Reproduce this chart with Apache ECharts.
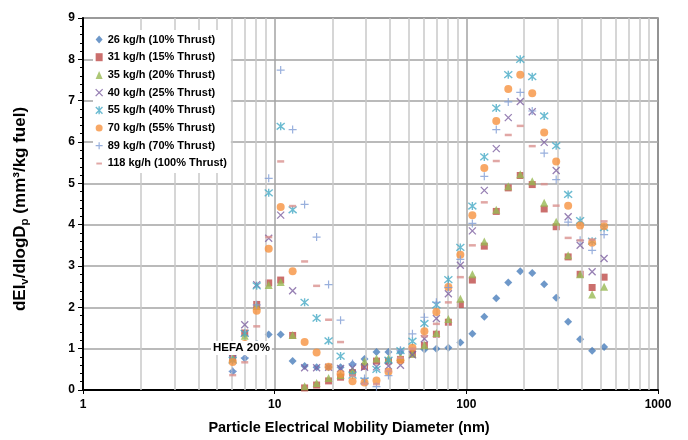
<!DOCTYPE html>
<html>
<head>
<meta charset="utf-8">
<script src="https://cdn.jsdelivr.net/npm/echarts@6/dist/echarts.min.js"></script>
<style>
  html, body { margin: 0; padding: 0; background: #ffffff; }
  #chart { width: 688px; height: 440px; }
</style>
</head>
<body>
<div id="chart"></div>
<script>
// Mobility diameter bin centres (nm)
const diameters = [6.04, 6.98, 8.06, 9.31, 10.75, 12.41, 14.33, 16.55, 19.11, 22.07, 25.48, 29.43,
  33.98, 39.24, 45.32, 52.33, 60.43, 69.78, 80.58, 93.06, 107.5, 124.1, 143.3, 165.5,
  191.1, 220.7, 254.8, 294.3, 339.8, 392.4, 453.2, 523.3];

const seriesNames = ['26 kg/h (10% Thrust)', '31 kg/h (15% Thrust)', '35 kg/h (20% Thrust)',
  '40 kg/h (25% Thrust)', '55 kg/h (40% Thrust)', '70 kg/h (55% Thrust)',
  '89 kg/h (70% Thrust)', '118 kg/h (100% Thrust)'];

// dEIv/dlogDp (mm3/kg fuel) per fuel flow
const flow26 = [0.45, 0.77, 1.12, 1.34, 1.34, 0.70, 0.58, 0.55, 0.55, 0.55, 0.62, 0.75,
  0.92, 0.92, 0.92, 0.93, 0.98, 1.00, 1.02, 1.15, 1.36, 1.77, 2.22, 2.60,
  2.87, 2.83, 2.56, 2.23, 1.65, 1.23, 0.95, 1.04];
const flow31 = [0.78, 1.38, 2.07, 2.59, 2.66, 1.32, 0.05, 0.12, 0.22, 0.31, 0.42, 0.57,
  0.70, 0.70, 0.74, 0.87, 1.08, 1.35, 1.64, 2.07, 2.66, 3.48, 4.32, 4.89,
  5.19, 4.97, 4.38, 3.95, 3.22, 2.80, 2.48, 2.73];
const flow35 = [0.76, 1.31, 2.03, 2.54, 2.61, 1.33, 0.09, 0.17, 0.29, 0.36, 0.48, 0.69,
  0.76, 0.76, 0.80, 0.88, 1.08, 1.38, 1.72, 2.21, 2.80, 3.59, 4.36, 4.93,
  5.22, 5.05, 4.53, 4.07, 3.26, 2.80, 2.31, 2.50];
const flow40 = [0.90, 1.58, 2.55, 3.67, 4.23, 2.40, 0.54, 0.54, 0.55, 0.52, 0.53, 0.55,
  0.56, 0.58, 0.60, 0.85, 1.24, 1.73, 2.33, 3.02, 3.85, 4.83, 5.84, 6.59,
  6.98, 6.73, 5.99, 5.31, 4.19, 3.50, 2.86, 3.18];
const flow55 = [0.72, 1.37, 2.52, 4.77, 6.38, 4.36, 2.12, 1.74, 1.19, 0.82, 0.36, 0.22,
  0.50, 0.72, 0.95, 1.18, 1.61, 2.06, 2.67, 3.45, 4.45, 5.64, 6.82, 7.63,
  8.00, 7.58, 6.63, 5.91, 4.73, 4.10, 3.60, 3.93];
const flow70 = [0.68, 1.11, 1.92, 3.42, 4.43, 2.87, 1.16, 0.91, 0.56, 0.39, 0.21, 0.18,
  0.23, 0.44, 0.72, 1.02, 1.42, 1.89, 2.49, 3.27, 4.23, 5.37, 6.51, 7.28,
  7.63, 7.18, 6.23, 5.53, 4.46, 3.98, 3.56, 3.96];
const flow89 = [0.45, 0.78, 2.06, 5.12, 7.74, 6.30, 4.49, 3.70, 2.55, 1.69, 0.64, 0.28,
  0.08, 0.35, 0.96, 1.36, 1.76, 2.12, 2.48, 3.16, 4.03, 5.17, 6.30, 6.97,
  7.20, 6.75, 5.73, 5.09, 4.06, 3.62, 3.38, 3.76];
const flow118 = [0.36, 0.67, 1.54, 3.70, 5.53, 4.45, 3.11, 2.52, 1.70, 1.16, 0.35, 0.15,
  0.14, 0.46, 0.78, 1.00, 1.30, 1.60, 2.12, 2.73, 3.50, 4.54, 5.54, 6.17,
  6.39, 5.90, 4.98, 4.46, 3.68, 3.62, 3.64, 4.08];

// Minor vertical grid positions on the log axis
const minorGridX = [2, 3, 4, 5, 6, 7, 8, 9, 20, 30, 40, 50, 60, 70, 80, 90,
  200, 300, 400, 500, 600, 700, 800, 900];

const FONT = "'Liberation Sans', Arial, sans-serif";

const PATH_X = 'path://M0,0 L10,10 M10,0 L0,10';
const PATH_STAR = 'path://M0,0 L10,10 M10,0 L0,10 M5,-1 L5,11';
const PATH_PLUS = 'path://M5,0 L5,10 M0,5 L10,5';
// short bar inside a 10x10 box so the legend icon keeps its proportions
const PATH_DASH = 'path://M0,0 M10,10 M1,3.8 L9,3.8 L9,6.6 L1,6.6 Z';

const styles = [
  { values: flow26, symbol: 'diamond', icon: 'diamond', size: 8, item: { color: '#4A7EBB' } },
  { values: flow31, symbol: 'rect', icon: 'rect', size: 7, item: { color: '#BE4B48' } },
  { values: flow35, symbol: 'triangle', icon: 'triangle', size: 8, item: { color: '#98B954' } },
  { values: flow40, symbol: PATH_X, icon: PATH_X, size: 7, item: { color: 'rgba(0,0,0,0)', borderColor: '#7D60A0', borderWidth: 1.3 } },
  { values: flow55, symbol: PATH_STAR, icon: PATH_STAR, size: 8, item: { color: 'rgba(0,0,0,0)', borderColor: '#46AAC5', borderWidth: 1.4 } },
  { values: flow70, symbol: 'circle', icon: 'circle', size: 8, item: { color: '#F69240' } },
  { values: flow89, symbol: PATH_PLUS, icon: PATH_PLUS, size: 8, item: { color: 'rgba(0,0,0,0)', borderColor: '#7F9CD4', borderWidth: 1.2 } },
  { values: flow118, symbol: 'rect', icon: PATH_DASH, size: [7, 2.5], item: { color: '#D9918F' } }
];

const series = styles.map((s, i) => ({
  name: seriesNames[i],
  type: 'scatter',
  symbol: s.symbol,
  symbolSize: s.size,
  itemStyle: s.item,
  emphasis: { disabled: true },
  silent: true,
  z: 3 + i,
  data: diameters.map((d, j) => [d, s.values[j]])
}));

// Lighter gridlines at 2..9 within each decade
series.unshift({
  name: 'minor-grid',
  type: 'scatter',
  data: [],
  silent: true,
  z: 1,
  markLine: {
    silent: true,
    symbol: ['none', 'none'],
    label: { show: false },
    lineStyle: { color: '#c9c9c9', width: 1.5, type: 'solid' },
    emphasis: { disabled: true },
    animation: false,
    data: minorGridX.map(v => ({ xAxis: v }))
  }
});

const chart = echarts.init(document.getElementById('chart'), null, { renderer: 'canvas' });

chart.setOption({
  animation: false,
  backgroundColor: '#ffffff',
  grid: {
    left: 83, right: 30, top: 18, bottom: 48,
    show: true, borderColor: '#000000', borderWidth: 1.2, backgroundColor: 'transparent'
  },
  legend: {
    orient: 'vertical',
    left: 93, top: 30,
    z: 20,
    padding: [3, 4, 3, 2],
    backgroundColor: '#ffffff',
    itemWidth: 7, itemHeight: 8,
    itemGap: 4.7,
    selectedMode: false,
    textStyle: { fontFamily: FONT, fontWeight: 'bold', fontSize: 11, color: '#000', lineHeight: 13 },
    data: styles.map((s, i) => ({
      name: seriesNames[i],
      icon: s.icon,
      itemStyle: s.item
    }))
  },
  xAxis: {
    type: 'log',
    logBase: 10,
    min: 1,
    max: 1000,
    axisLine: { show: true, onZero: false, lineStyle: { color: '#000', width: 2 } },
    axisTick: { show: true, length: 4, lineStyle: { color: '#000', width: 1 } },
    axisLabel: {
      fontFamily: FONT, fontWeight: 'bold', fontSize: 12, color: '#000', margin: 9,
      formatter: v => String(Math.round(v))
    },
    splitLine: { show: true, lineStyle: { color: '#a3a3a3', width: 1.5 } },
    name: 'Particle Electrical Mobility Diameter (nm)',
    nameLocation: 'middle',
    nameGap: 30,
    nameTextStyle: { fontFamily: FONT, fontWeight: 'bold', fontSize: 14.5, color: '#000', padding: [0, 43, 0, 0] }
  },
  yAxis: {
    type: 'value',
    min: 0,
    max: 9,
    interval: 1,
    axisLine: { show: true, lineStyle: { color: '#000', width: 2 } },
    axisTick: { show: true, length: 5, lineStyle: { color: '#000', width: 1 } },
    minorTick: { show: true, splitNumber: 5, length: 3, lineStyle: { color: '#000', width: 1 } },
    axisLabel: { fontFamily: FONT, fontWeight: 'bold', fontSize: 12, color: '#000', margin: 8 },
    splitLine: { show: true, lineStyle: { color: '#a3a3a3', width: 1.5 } },
    name: '{a|dEI}{s|v}{a|/dlogD}{s|p}{a| (mm³/kg fuel)}',
    nameLocation: 'middle',
    nameGap: 52,
    nameTextStyle: {
      fontFamily: FONT, fontWeight: 'bold', color: '#000',
      padding: [0, 10, 0, 0],
      rich: {
        a: { fontFamily: FONT, fontWeight: 'bold', fontSize: 17, lineHeight: 22, color: '#000' },
        s: { fontFamily: FONT, fontWeight: 'bold', fontSize: 11.5, lineHeight: 11, verticalAlign: 'bottom', color: '#000' }
      }
    }
  },
  graphic: [{
    type: 'text',
    left: 211, top: 341,
    z: 10,
    style: {
      text: 'HEFA 20%',
      font: "bold 11.5px 'Liberation Sans', Arial, sans-serif",
      fill: '#000',
      backgroundColor: '#ffffff',
      padding: [1, 2, 1, 2]
    }
  }],
  series: series
});
</script>
</body>
</html>
